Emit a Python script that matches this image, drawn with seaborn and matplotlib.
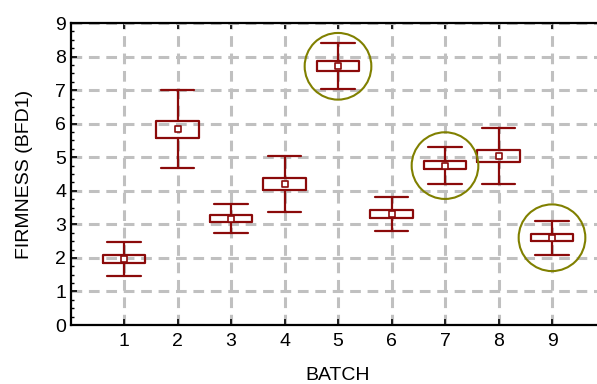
import matplotlib
matplotlib.use("Agg")
import matplotlib.pyplot as plt
from matplotlib.ticker import MultipleLocator
import seaborn as sns
import pandas as pd

batches = [1, 2, 3, 4, 5, 6, 7, 8, 9]
means = [1.97, 5.83, 3.17, 4.20, 7.71, 3.31, 4.75, 5.04, 2.60]
box_lo = [1.86, 5.58, 3.07, 4.02, 7.56, 3.19, 4.64, 4.85, 2.50]
box_hi = [2.09, 6.09, 3.27, 4.39, 7.86, 3.42, 4.89, 5.21, 2.72]
whis_lo = [1.47, 4.68, 2.73, 3.38, 7.02, 2.79, 4.20, 4.20, 2.09]
whis_hi = [2.48, 6.99, 3.61, 5.03, 8.41, 3.82, 5.31, 5.88, 3.11]
highlighted = [5, 7, 9]
yticks = [0, 1, 2, 3, 4, 5, 6, 7, 8, 9]

sns.set_style("white")
plt.rcParams['font.family'] = ['Liberation Sans', 'DejaVu Sans']
plt.rcParams['text.color'] = 'black'
plt.rcParams['axes.labelcolor'] = 'black'
plt.rcParams['xtick.color'] = 'black'
plt.rcParams['ytick.color'] = 'black'

red = "#8b0a0a"
olive = "#808000"

fig = plt.figure(figsize=(5.97, 3.84), dpi=100)
ax = fig.add_axes([70.5/597, 59/384, 535/597, 302/384])

stats = []
for b, m, lo, hi, wl, wh in zip(batches, means, box_lo, box_hi, whis_lo, whis_hi):
    stats.append(dict(med=m, q1=lo, q3=hi, whislo=wl, whishi=wh, mean=m, fliers=[], label=str(b)))

ax.bxp(stats, positions=batches, widths=0.8, capwidths=0.62, showmeans=False,
       boxprops=dict(color=red, linewidth=1.6),
       whiskerprops=dict(color=red, linewidth=1.6),
       capprops=dict(color=red, linewidth=1.6),
       medianprops=dict(linewidth=0),
       manage_ticks=False, zorder=3)

df = pd.DataFrame({"batch": batches, "mean": means})
sns.scatterplot(data=df, x="batch", y="mean", marker="s", s=22, color="white",
                edgecolor=red, linewidth=1.2, ax=ax, zorder=4)

hl = df[df["batch"].isin(highlighted)]
sns.scatterplot(data=hl, x="batch", y="mean", marker="o", s=48**2, facecolor="none",
                edgecolor=olive, linewidth=1.5, ax=ax, zorder=5)

ax.set_xlim(0, 10)
ax.set_ylim(0, 9)
ax.set_xticks(batches)
ax.set_xticklabels([str(b) for b in batches])
ax.set_yticks(yticks)
ax.set_yticklabels([str(t) for t in yticks])
ax.yaxis.set_minor_locator(MultipleLocator(0.25))
ax.grid(True, which="major", color="#c0c0c0", linewidth=2.2, linestyle=(0, (3.5, 2.2)), zorder=0)
ax.set_axisbelow(True)
for s in ["left", "bottom", "top", "right"]:
    ax.spines[s].set_color("black")
    ax.spines[s].set_linewidth(1.6)
ax.tick_params(which="major", direction="in", length=4, width=1.2, labelsize=14, top=True, bottom=True, left=True, pad=3)
ax.tick_params(axis="y", which="minor", direction="in", length=2, width=1.0, left=True)
ax.tick_params(axis="x", which="major", pad=6)
ax.set_xlabel("BATCH", fontsize=14, labelpad=12)
ax.set_ylabel("FIRMNESS (BFD1)", fontsize=14, labelpad=16)

fig.savefig("out.png", dpi=100)
